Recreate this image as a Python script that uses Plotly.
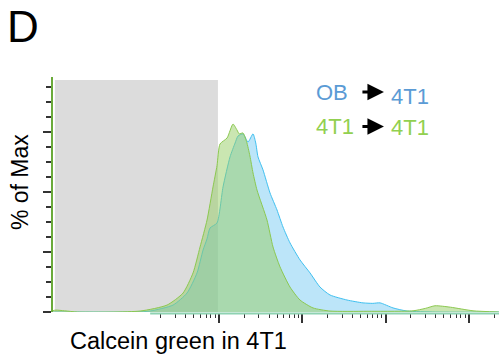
import plotly.graph_objects as go

# Calcein green intensity (log scale) and % of max for each condition
ob_x = [10, 100, 149, 281, 413, 545, 643, 718, 780, 946, 1117, 1355, 1560, 1690,
        1941, 2228, 2558, 2760, 2938, 3373, 4093, 4966, 5861, 7112, 9376, 12360,
        16300, 21480, 34360, 53550, 70000, 85700, 122700, 180700, 400000, 2290000]
ob_y = [0, 0, 0.4, 2.9, 7.9, 16.3, 25.8, 30.5, 35.0, 37.1, 52.1, 64.6, 70.4, 73.3,
        74.2, 70.8, 74.2, 70.4, 64.6, 59.2, 49.6, 42.5, 35.4, 28.8, 21.7, 16.3,
        10.4, 7.1, 5.0, 3.8, 3.6, 3.8, 1.7, 0.4, 0, 0]

t1_x = [10, 11, 14, 20, 113, 238, 370, 488, 592, 718, 847, 946, 1028, 1250,
        1472, 1644, 1750, 1941, 2140, 2350, 2560, 2858, 3767, 4446, 5396, 7112,
        9376, 13430, 21480, 60000, 213300, 300000, 391700, 600000, 1120000, 2290000]
t1_y = [0.5, 0.8, 0.5, 0, 0.4, 2.9, 7.9, 16.3, 27.1, 38.3, 52.1, 61.0, 70.0, 72.5,
        78.3, 75.8, 74.2, 74.6, 71.0, 65.0, 57.9, 50.8, 38.3, 27.1, 18.8, 10.4,
        5.0, 1.7, 0.4, 0.3, 0.5, 1.5, 2.6, 2.0, 0.5, 0]

# Gated (negative) region
gate_x = [10.7, 970]
gate_top = 96.7

# Axis ticks
y_major = [0, 25, 50, 75]
y_minor = [6.25, 12.5, 18.75, 31.25, 37.5, 43.75, 56.25, 62.5, 68.75, 81.25, 87.5, 93.75]
x_major = [1e3, 1e4, 1e5, 1e6]
x_minor = [m * 10 ** e for e in range(2, 7) for m in range(2, 10)
           if m * 10 ** e <= 2.2e6]
x_line_start = 149

FONT = "Liberation Sans, Arial, sans-serif"
BLUE_TXT = "#5b9bd5"
GREEN_TXT = "#92d050"

fig = go.Figure()

fig.add_trace(go.Scatter(
    x=ob_x, y=ob_y, mode="lines", fill="tozeroy",
    line=dict(color="#3fc0f0", width=1, shape="spline", smoothing=0.6),
    fillcolor="rgba(100,195,240,0.43)", name="OB → 4T1", showlegend=False,
))
fig.add_trace(go.Scatter(
    x=t1_x, y=t1_y, mode="lines", fill="tozeroy",
    line=dict(color="#8cc850", width=1, shape="spline", smoothing=0.6),
    fillcolor="rgba(150,205,100,0.5)", name="4T1 → 4T1", showlegend=False,
))

fig.add_shape(type="rect", xref="x", yref="y",
              x0=gate_x[0], x1=gate_x[1], y0=0, y1=gate_top,
              fillcolor="#dcdcdc", line_width=0, layer="below")

# baseline of the intensity axis
fig.add_shape(type="line", xref="x", yref="paper",
              x0=x_line_start, x1=2.3e6, y0=-0.006, y1=-0.006,
              line=dict(color="#8ed2b2", width=2), layer="above")

fig.update_layout(
    width=499, height=360,
    margin=dict(l=53, r=0, t=77, b=48),
    paper_bgcolor="white", plot_bgcolor="white",
    font=dict(family=FONT, color="black"),
    xaxis=dict(
        type="log", range=[1.007, 6.361],
        showgrid=False, zeroline=False, showline=False,
        tickmode="array", tickvals=x_major, showticklabels=False,
        ticks="outside", ticklen=10, tickwidth=2, tickcolor="#333333",
        minor=dict(tickmode="array", tickvals=x_minor, ticks="outside",
                   ticklen=5, tickwidth=1, tickcolor="#333333", showgrid=False),
    ),
    yaxis=dict(
        range=[0, 97.9],
        showgrid=False, zeroline=False,
        showline=True, linecolor="#6aaa3a", linewidth=2,
        tickmode="array", tickvals=y_major, showticklabels=False,
        ticks="outside", ticklen=8, tickwidth=2, tickcolor="#333333",
        minor=dict(tickmode="array", tickvals=y_minor, ticks="outside",
                   ticklen=5, tickwidth=1.5, tickcolor="#333333", showgrid=False),
    ),
)

annotations = [
    dict(text="D", x=-0.067, y=1.213, font=dict(size=44)),
    dict(text="% of Max", x=-0.074, y=0.553, textangle=-90, font=dict(size=23)),
    dict(text="Calcein green in 4T1", x=0.281, y=-0.125, font=dict(size=23.5)),
    dict(text="OB", x=0.626, y=0.936, font=dict(size=22, color=BLUE_TXT)),
    dict(text="4T1", x=0.800, y=0.919, font=dict(size=22, color=BLUE_TXT)),
    dict(text="4T1", x=0.633, y=0.791, font=dict(size=22, color=GREEN_TXT)),
    dict(text="4T1", x=0.800, y=0.783, font=dict(size=22, color=GREEN_TXT)),
]
for a in annotations:
    fig.add_annotation(xref="paper", yref="paper", showarrow=False,
                       xanchor="center", yanchor="middle", **a)

# black arrows between source and target labels
for ypos in [0.936, 0.789]:
    fig.add_annotation(xref="paper", yref="paper", x=0.742, y=ypos,
                       text="", showarrow=True, ax=-23, ay=0,
                       arrowhead=2, arrowsize=1.1, arrowwidth=3,
                       arrowcolor="black")

fig.write_html("out.html")
